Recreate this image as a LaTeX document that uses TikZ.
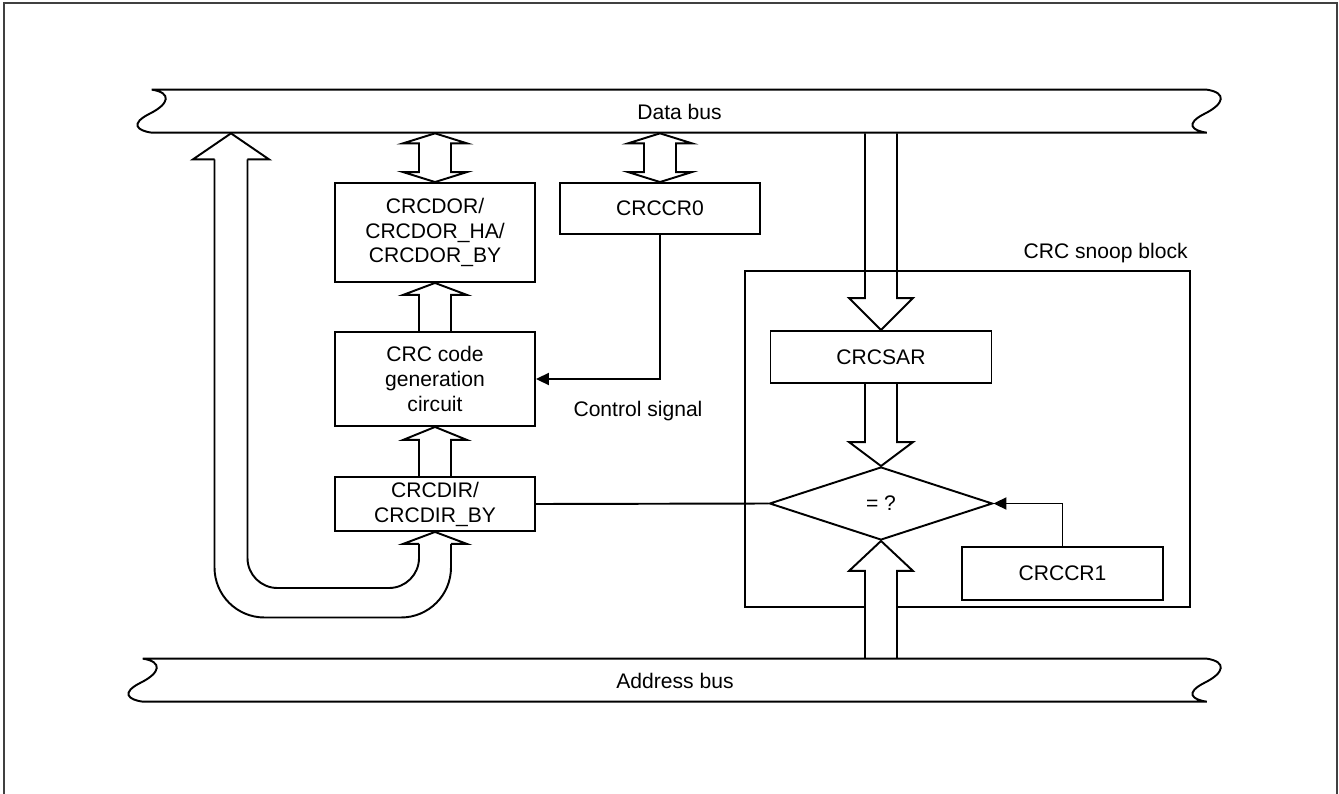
\documentclass[tikz,border=0pt]{standalone}
\usepackage{fontspec}
\setmainfont{Liberation Sans}
\usepackage{tikz}
\usetikzlibrary{arrows.meta,calc,shapes.geometric}

\tikzset{
  blk/.style={draw, line width=1.1pt, align=center, inner sep=0pt, minimum width=4cm},
  bus/.style={inner sep=0pt, minimum height=0.86cm},
  busline/.style={draw, line width=1.1pt},
  fat/.style={draw, line width=1.1pt, line join=miter},
  sig/.style={line width=1.1pt, -{Triangle[length=0.26cm,width=0.24cm]}},
  frame/.style={draw=black!75, line width=0.8pt}
}

\newcommand{\busshape}[2]{
  \begin{scope}[shift={(#1)}]
    \draw[busline] (0,0) -- (#2,0) .. controls (#2+20,3) and (#2+18,14) .. (#2-2,24)
      .. controls (#2-22,34) and (#2-15,41) .. (#2,43) -- (0,43)
      .. controls (-15,41) and (-22,34) .. (-2,24) .. controls (18,14) and (20,3) .. (0,0) -- cycle;
  \end{scope}
}
\newcommand{\fatup}[4][]{
  \draw[fat,#1] let \p1=(#2), \p2=(#3) in (\x2-0.32cm,\y1) -- (\x2-0.32cm,\y2-#4) -- (\x2-0.64cm,\y2-#4)
    -- (\x2,\y2) -- (\x2+0.64cm,\y2-#4) -- (\x2+0.32cm,\y2-#4) -- (\x2+0.32cm,\y1);
}
\newcommand{\fatdown}[4][]{
  \draw[fat,#1] let \p1=(#2), \p2=(#3) in (\x2-0.32cm,\y1) -- (\x2-0.32cm,\y2+#4) -- (\x2-0.64cm,\y2+#4)
    -- (\x2,\y2) -- (\x2+0.64cm,\y2+#4) -- (\x2+0.32cm,\y2+#4) -- (\x2+0.32cm,\y1);
}
\newcommand{\fatboth}[3]{
  \draw[fat] let \p1=(#1), \p2=(#2) in (\x2,\y1) -- (\x2+0.64cm,\y1-#3) -- (\x2+0.32cm,\y1-#3)
    -- (\x2+0.32cm,\y2+#3) -- (\x2+0.64cm,\y2+#3) -- (\x2,\y2) -- (\x2-0.64cm,\y2+#3)
    -- (\x2-0.32cm,\y2+#3) -- (\x2-0.32cm,\y1-#3) -- (\x2-0.64cm,\y1-#3) -- cycle;
}

\begin{document}
\begin{tikzpicture}[x=0.02cm, y=-0.02cm, font={\fontsize{12pt}{14.2pt}\selectfont}]
\useasboundingbox (0,0) rectangle (1339,794);
\draw[frame] (4,794) -- (4,3) -- (1337,3) -- (1337,794);

\node[bus, minimum width=21.1cm] (databus) at (679.5,111.5) {Data bus};
\node[bus, minimum width=21.28cm] (addrbus) at (675,680.5) {Address bus};

\node[blk, minimum height=1.98cm] (dor) at (435,232.5) {CRCDOR/\\CRCDOR\_HA/\\CRCDOR\_BY};
\node[blk, minimum height=1.02cm] (ccr0) at (660,208.5) {CRCCR0};
\node[blk, minimum height=1.88cm] (gen) at (435,379) {CRC code\\generation\\circuit};
\node[blk, minimum height=1.08cm] (dir) at (435,504) {CRCDIR/\\CRCDIR\_BY};
\node (ctltxt) at (638,411) {Control signal};

\node[blk, minimum width=8.9cm, minimum height=6.72cm] (snoop) at (967.5,439) {};
\node[anchor=base east, inner sep=0pt] (snooptxt) at (1188,258) {CRC snoop block};
\node[blk, minimum width=4.42cm, minimum height=1.04cm] (sar) at (881,357) {CRCSAR};
\node[draw, diamond, line width=1.1pt, inner sep=0pt, minimum width=4.46cm, minimum height=1.46cm] (cmp) at (881,503.5) {= ?};
\node[blk, minimum width=4.02cm, minimum height=1.06cm] (ccr1) at (1062.5,573.5) {CRCCR1};
\coordinate (ret) at (231,603);

\fatboth{databus.south}{dor.north}{0.2cm}
\fatboth{databus.south}{ccr0.north}{0.2cm}
\fatup{gen.north}{dor.south}{0.24cm}
\fatup{dir.north}{gen.south}{0.26cm}
\fatdown{databus.south}{sar.north}{0.64cm}
\fatdown{sar.south}{cmp.north}{0.48cm}
\fatup[fill=white]{addrbus.north}{cmp.south}{0.6cm}

\draw[fat, rounded corners=1cm] let \p1=(dir.south), \p2=(databus.south), \p3=(ret) in
  (\x1+0.32cm,\y1-0.24cm) -- (\x1+0.32cm,\y3-0.29cm) -- (\x3-0.33cm,\y3-0.29cm) -- (\x3-0.33cm,\y2-0.52cm);
\draw[fat, rounded corners=0.6cm] let \p1=(dir.south), \p2=(databus.south), \p3=(ret) in
  (\x3+0.33cm,\y2-0.52cm) -- (\x3+0.33cm,\y3+0.3cm) -- (\x1-0.32cm,\y3+0.3cm) -- (\x1-0.32cm,\y1-0.24cm);
\draw[fat] let \p1=(dir.south), \p2=(databus.south), \p3=(ret) in
  (\x3-0.33cm,\y2-0.52cm) -- (\x3-0.76cm,\y2-0.52cm) -- (\x3,\y2) -- (\x3+0.76cm,\y2-0.52cm) -- (\x3+0.33cm,\y2-0.52cm)
  (\x1-0.32cm,\y1-0.24cm) -- (\x1-0.64cm,\y1-0.24cm) -- (\x1,\y1) -- (\x1+0.64cm,\y1-0.24cm) -- (\x1+0.32cm,\y1-0.24cm);

\busshape{databus.north west}{1055}
\busshape{addrbus.north west}{1064}

\draw[sig] (ccr0.south) |- (gen.east);
\draw[line width=1.1pt] (dir.east) -- (cmp.west);
\draw[sig] (ccr1.north) |- (cmp.east);
\end{tikzpicture}
\end{document}
